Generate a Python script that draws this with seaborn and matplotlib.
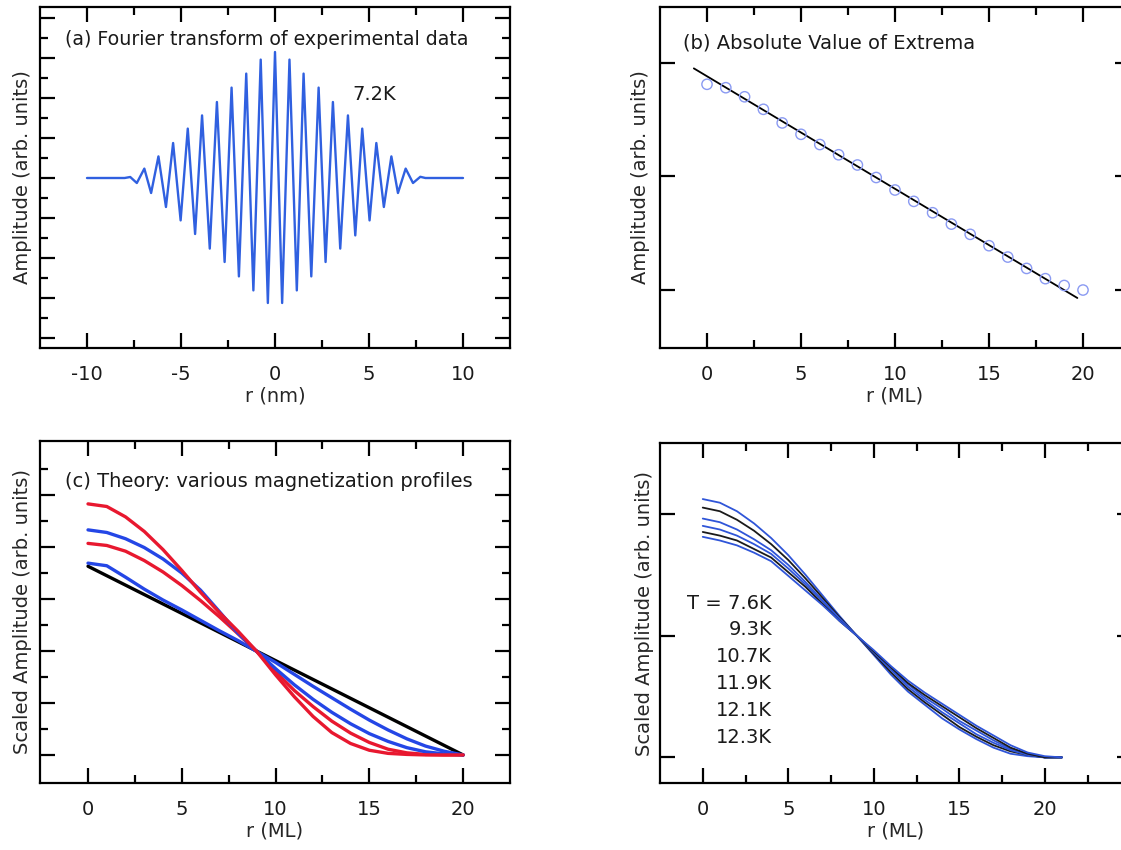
import numpy as np
import pandas as pd
import matplotlib
matplotlib.use("Agg")
import matplotlib.pyplot as plt
from matplotlib.ticker import FixedLocator
import seaborn as sns

# (a) extrema of the Fourier transform
ft_r = [-10.0, -8.0, -7.7, -7.35, -6.95, -6.59, -6.2, -5.8, -5.42, -5.02, -4.64,
        -4.25, -3.88, -3.47, -3.09, -2.68, -2.31, -1.92, -1.53, -1.15, -0.76, -0.38,
        0.0, 0.38, 0.77, 1.16, 1.52, 1.93, 2.32, 2.69, 3.08, 3.47, 3.88, 4.27, 4.64,
        5.03, 5.39, 5.79, 6.19, 6.54, 6.95, 7.34, 7.73, 8.0, 10.0]
ft_amp = [0, 0, 0.05, -0.25, 0.47, -0.75, 1.08, -1.45, 1.75, -2.12, 2.47,
          -2.8, 3.13, -3.53, 3.8, -4.2, 4.52, -4.92, 5.22, -5.62, 5.92, -6.25,
          6.3, -6.25, 5.92, -5.62, 5.22, -4.92, 4.52, -4.2, 3.8, -3.53, 3.13, -2.87, 2.47,
          -2.12, 1.75, -1.45, 1.08, -0.75, 0.47, -0.25, 0.06, 0, 0]

# (b) absolute value of extrema and straight fit
ext_r = list(range(21))
ext_amp = [1.81, 1.78, 1.70, 1.59, 1.47, 1.37, 1.28, 1.19, 1.10, 0.99, 0.88,
           0.78, 0.68, 0.58, 0.49, 0.39, 0.29, 0.19, 0.10, 0.04, 0.00]
fit_r = [-0.7, 19.7]
fit_amp = [1.95, -0.07]

# (c) theory curves
th_r = list(range(21))
th_black_r = [0, 20]
th_black = [3.63, 0.0]
th_red1 = [4.83, 4.78, 4.58, 4.30, 3.95, 3.55, 3.13, 2.74, 2.38, 1.99, 1.54,
           1.12, 0.74, 0.43, 0.22, 0.09, 0.03, 0.01, 0.0, 0.0, 0.0]
th_blue1 = [4.33, 4.28, 4.16, 3.99, 3.77, 3.50, 3.17, 2.76, 2.34, 1.99, 1.66,
            1.35, 1.07, 0.82, 0.60, 0.41, 0.26, 0.14, 0.06, 0.02, 0.0]
th_red2 = [4.07, 4.03, 3.92, 3.74, 3.52, 3.26, 2.97, 2.66, 2.33, 1.99, 1.60,
           1.24, 0.93, 0.65, 0.42, 0.24, 0.11, 0.04, 0.01, 0.0, 0.0]
th_blue2 = [3.69, 3.64, 3.42, 3.19, 2.98, 2.79, 2.59, 2.39, 2.20, 1.99, 1.78,
            1.55, 1.32, 1.10, 0.88, 0.67, 0.48, 0.31, 0.17, 0.07, 0.0]

# (d) experiment, various temperatures
ex_r = list(range(22))
temps = ["7.6K", "9.3K", "10.7K", "11.9K", "12.1K", "12.3K"]
ex_curves = [
    [2.12, 2.09, 2.02, 1.92, 1.80, 1.66, 1.50, 1.33, 1.16, 1.00, 0.84,
     0.68, 0.54, 0.43, 0.32, 0.23, 0.15, 0.08, 0.03, 0.01, 0.0, 0.0],
    [2.05, 2.02, 1.95, 1.86, 1.75, 1.62, 1.47, 1.31, 1.15, 1.00, 0.85,
     0.70, 0.56, 0.45, 0.35, 0.25, 0.17, 0.10, 0.05, 0.02, 0.0, 0.0],
    [1.96, 1.93, 1.87, 1.79, 1.70, 1.58, 1.44, 1.29, 1.14, 1.00, 0.86,
     0.72, 0.58, 0.47, 0.37, 0.28, 0.19, 0.12, 0.06, 0.02, 0.0, 0.0],
    [1.90, 1.87, 1.82, 1.75, 1.67, 1.55, 1.42, 1.28, 1.13, 1.00, 0.87,
     0.73, 0.60, 0.49, 0.40, 0.30, 0.22, 0.14, 0.07, 0.03, 0.0, 0.0],
    [1.85, 1.82, 1.78, 1.71, 1.64, 1.52, 1.40, 1.26, 1.12, 1.00, 0.87,
     0.74, 0.61, 0.51, 0.42, 0.33, 0.24, 0.16, 0.08, 0.03, 0.0, 0.0],
    [1.81, 1.78, 1.74, 1.68, 1.61, 1.49, 1.37, 1.25, 1.12, 1.00, 0.88,
     0.75, 0.63, 0.53, 0.44, 0.35, 0.26, 0.18, 0.10, 0.04, 0.01, 0.0],
]
ex_colors = ["#2f55d8", "#1a1a1a", "#2f55d8", "#2f55d8", "#1a1a1a", "#2f55d8"]

sns.set_style("ticks")
plt.rcParams['font.family'] = ['DejaVu Sans']
plt.rcParams['text.color'] = '#1a1a1a'
plt.rcParams['axes.unicode_minus'] = False

FS = 14
W, H = 1121, 850
fig = plt.figure(figsize=(W / 100, H / 100), dpi=100)


def panel(left, top, right, bottom):
    return fig.add_axes([left / W, 1 - bottom / H, (right - left) / W, (bottom - top) / H])


def style(ax, xmaj, xmin, ymaj, ymin, xlim, ylim):
    ax.set_xlim(*xlim)
    ax.set_ylim(*ylim)
    for s in ax.spines.values():
        s.set_visible(True)
        s.set_linewidth(1.6)
        s.set_color('black')
    ax.xaxis.set_major_locator(FixedLocator(xmaj))
    ax.xaxis.set_minor_locator(FixedLocator(xmin))
    ax.yaxis.set_major_locator(FixedLocator(ymaj))
    ax.yaxis.set_minor_locator(FixedLocator(ymin))
    ax.tick_params(which='both', direction='in', top=True, right=True,
                   width=1.6, color='black')
    ax.tick_params(which='major', length=11)
    ax.tick_params(which='minor', length=6)
    ax.tick_params(axis='x', labelsize=FS, pad=12, labelcolor='#1a1a1a')
    ax.tick_params(axis='y', labelleft=False)
    ax.xaxis.label.set_size(FS)
    ax.yaxis.label.set_size(FS)


# (a)
ax = panel(40, 7, 510, 348)
sns.lineplot(x=ft_r, y=ft_amp, ax=ax, color='#3060e0', lw=1.7, estimator=None, sort=False,
             solid_joinstyle='round')
style(ax, [-10, -5, 0, 5, 10], [-7.5, -2.5, 2.5, 7.5],
      [-8, -6, -4, -2, 0, 2, 4, 6, 8], [-7, -5, -3, -1, 1, 3, 5, 7],
      (-12.5, 12.5), (-8.5, 8.55))
ax.set_xlabel('r (nm)', labelpad=2)
ax.set_ylabel('Amplitude (arb. units)', labelpad=2)
ax.text(0.053, 0.905, '(a) Fourier transform of experimental data', transform=ax.transAxes,
        ha='left', va='center', fontsize=13.7)
ax.text(5.3, 4.15, '7.2K', ha='center', va='center', fontsize=FS)

# (b)
ax = panel(660, 7, 1130, 348)
sns.lineplot(x=fit_r, y=fit_amp, ax=ax, color='black', lw=1.3, estimator=None)
sns.scatterplot(x=ext_r, y=ext_amp, ax=ax, marker='o', s=55, facecolor='none',
                edgecolor='#8a9af2', linewidth=1.0, zorder=3)
style(ax, [0, 5, 10, 15, 20], [2.5, 7.5, 12.5, 17.5], [0, 1, 2], [],
      (-2.5, 22.5), (-0.51, 2.49))
ax.set_xlabel('r (ML)', labelpad=2)
ax.set_ylabel('Amplitude (arb. units)', labelpad=7)
ax.text(0.049, 0.893, '(b) Absolute Value of Extrema', transform=ax.transAxes,
        ha='left', va='center', fontsize=FS)

# (c)
ax = panel(40, 441, 510, 783)
th = pd.DataFrame({
    'r': th_r * 4,
    'amp': th_red1 + th_blue1 + th_red2 + th_blue2,
    'profile': ['red1'] * 21 + ['blue1'] * 21 + ['red2'] * 21 + ['blue2'] * 21,
})
sns.lineplot(x=th_black_r, y=th_black, ax=ax, color='black', lw=2.4, estimator=None)
sns.lineplot(data=th, x='r', y='amp', hue='profile', ax=ax, lw=2.4, estimator=None,
             palette={'red1': '#e8182f', 'blue1': '#2446e6', 'red2': '#e8182f', 'blue2': '#2446e6'},
             hue_order=['blue2', 'red2', 'blue1', 'red1'], legend=False)
style(ax, [0, 5, 10, 15, 20], [2.5, 7.5, 12.5, 17.5],
      [0, 1, 2, 3, 4, 5], [0.5, 1.5, 2.5, 3.5, 4.5, 5.5],
      (-2.56, 22.5), (-0.54, 6.04))
ax.set_xlabel('r (ML)', labelpad=2)
ax.set_ylabel('Scaled Amplitude (arb. units)', labelpad=2)
ax.text(0.053, 0.882, '(c) Theory: various magnetization profiles', transform=ax.transAxes,
        ha='left', va='center', fontsize=FS)

# (d)
ax = panel(660, 443, 1132, 783)
ex = pd.DataFrame({
    'r': ex_r * len(temps),
    'amp': sum(ex_curves, []),
    'T': [t for t in temps for _ in ex_r],
})
sns.lineplot(data=ex, x='r', y='amp', hue='T', ax=ax, lw=1.3, estimator=None,
             palette=dict(zip(temps, ex_colors)), legend=False)
style(ax, [0, 5, 10, 15, 20], [2.5, 7.5, 12.5, 17.5, 22.5], [0, 1, 2], [],
      (-2.5, 25.1), (-0.21, 2.58))
ax.set_xlabel('r (ML)', labelpad=2)
ax.set_ylabel('Scaled Amplitude (arb. units)', labelpad=4)
for i, t in enumerate(temps):
    ax.annotate(('T = ' if i == 0 else '') + t, xy=(4.05, 1.267), xytext=(0, -19.4 * i),
                textcoords='offset points', ha='right', va='center', fontsize=FS)

fig.savefig('out.png', dpi=100)
